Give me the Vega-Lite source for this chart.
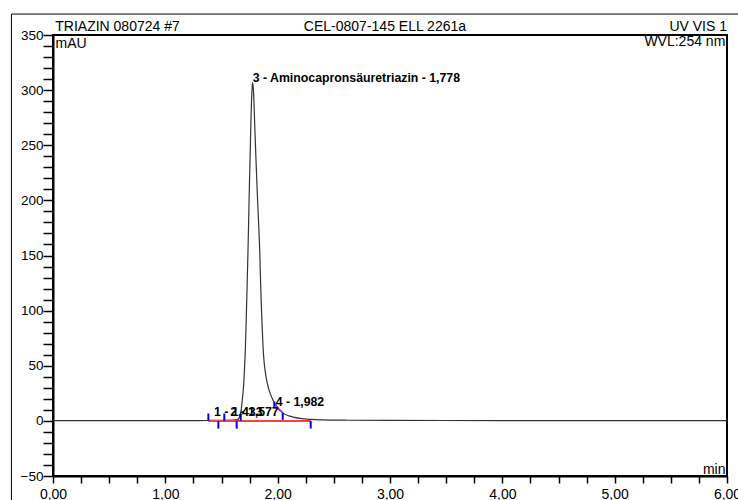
{
  "$schema": "https://vega.github.io/schema/vega-lite/v6.json",
  "width": 674,
  "height": 441,
  "autosize": {"type": "none"},
  "padding": {"left": 53, "top": 35, "right": 11, "bottom": 24},
  "background": "white",
  "config": {
    "view": {"stroke": "black", "strokeWidth": 2},
    "font": "Liberation Sans",
    "axis": {"labelOverlap": false, "labelBound": false, "labelFlush": false, "grid": false}
  },
  "resolve": {"axis": {"x": "independent", "y": "independent"}},
  "datasets": {
    "signal": [
      {"t": 0.0, "v": 0.2}, {"t": 0.5, "v": 0.2}, {"t": 1.0, "v": 0.3}, {"t": 1.3, "v": 0.3},
      {"t": 1.4, "v": 0.4}, {"t": 1.5, "v": 0.5}, {"t": 1.6, "v": 0.7}, {"t": 1.64, "v": 1.2},
      {"t": 1.655, "v": 2.5}, {"t": 1.665, "v": 5}, {"t": 1.675, "v": 10}, {"t": 1.685, "v": 19},
      {"t": 1.692, "v": 26}, {"t": 1.698, "v": 34}, {"t": 1.705, "v": 48}, {"t": 1.712, "v": 64},
      {"t": 1.72, "v": 92}, {"t": 1.728, "v": 122}, {"t": 1.736, "v": 155}, {"t": 1.745, "v": 198},
      {"t": 1.754, "v": 237}, {"t": 1.762, "v": 272}, {"t": 1.77, "v": 297}, {"t": 1.778, "v": 307},
      {"t": 1.786, "v": 297}, {"t": 1.796, "v": 268}, {"t": 1.807, "v": 237}, {"t": 1.818, "v": 208},
      {"t": 1.83, "v": 180}, {"t": 1.84, "v": 155}, {"t": 1.848, "v": 126}, {"t": 1.855, "v": 104},
      {"t": 1.862, "v": 85}, {"t": 1.87, "v": 67}, {"t": 1.878, "v": 55}, {"t": 1.888, "v": 46},
      {"t": 1.898, "v": 39}, {"t": 1.908, "v": 34}, {"t": 1.92, "v": 29}, {"t": 1.935, "v": 24.5},
      {"t": 1.958, "v": 19}, {"t": 1.98, "v": 15}, {"t": 2.0, "v": 12.3}, {"t": 2.025, "v": 9.5},
      {"t": 2.048, "v": 7}, {"t": 2.1, "v": 4.5}, {"t": 2.15, "v": 3.2}, {"t": 2.2, "v": 2.2},
      {"t": 2.3, "v": 1.3}, {"t": 2.4, "v": 0.9}, {"t": 2.6, "v": 0.6}, {"t": 3.0, "v": 0.4},
      {"t": 4.0, "v": 0.3}, {"t": 5.0, "v": 0.3}, {"t": 6.0, "v": 0.3}
    ],
    "baseline": [{"t1": 1.383, "t2": 2.294, "v": 0}],
    "skim": [{"t1": 1.973, "t2": 2.032, "v1": 13, "v2": 8.4}],
    "delims": [
      {"t": 1.383, "a": 0, "b": 6.7},
      {"t": 1.472, "a": 0, "b": -7},
      {"t": 1.525, "a": 0, "b": 6.7},
      {"t": 1.635, "a": 0, "b": -7},
      {"t": 1.671, "a": 0, "b": 6.7},
      {"t": 1.970, "a": 11.5, "b": 17.5},
      {"t": 2.045, "a": 0.9, "b": 7.3},
      {"t": 2.294, "a": 0, "b": -7}
    ],
    "peaks": [
      {"t": 1.433, "v": 4.5, "label": "1 - 1,433"},
      {"t": 1.577, "v": 4.5, "label": "2 - 1,577"},
      {"t": 1.778, "v": 307.5, "label": "3 - Aminocapronsäuretriazin - 1,778"},
      {"t": 1.982, "v": 13.6, "label": "4 - 1,982"}
    ],
    "headLeft": [{"t": 0.02, "v": 353.7, "label": "TRIAZIN 080724 #7"}],
    "headCenter": [{"t": 2.955, "v": 353.7, "label": "CEL-0807-145 ELL 2261a"}],
    "headRight": [
      {"t": 6.0, "v": 353.7, "label": "UV VIS 1"},
      {"t": 5.985, "v": 339.7, "label": "WVL:254 nm"}
    ],
    "frame": [{"t1": -0.37, "t2": 6.4, "v1": 369, "v2": -90}]
  },
  "layer": [
    {
      "data": {"name": "frame"},
      "mark": {"type": "rect", "fill": null, "stroke": "black", "strokeWidth": 1, "clip": false},
      "encoding": {
        "x": {"field": "t1", "type": "quantitative", "scale": {"domain": [0, 6], "nice": false, "zero": false},
          "axis": {
            "orient": "bottom",
            "values": [0,0.25,0.5,0.75,1,1.25,1.5,1.75,2,2.25,2.5,2.75,3,3.25,3.5,3.75,4,4.25,4.5,4.75,5,5.25,5.5,5.75,6],
            "labelExpr": "datum.value % 1 === 0 ? replace(format(datum.value, '.2f'), '.', ',') : ''",
            "labelFlush": false, "labelOverlap": false, "labelBound": false,
            "labelFont": "Liberation Sans", "labelFontSize": 14, "labelColor": "black",
            "labelPadding": 4, "tickSize": 7, "tickColor": "black", "tickWidth": 1.5,
            "domainColor": "black", "domainWidth": 2, "grid": false,
            "title": "min", "titleFont": "Liberation Sans", "titleFontSize": 14, "titleFontWeight": "normal",
            "titleColor": "black", "titleX": 672, "titleY": -3, "titleAlign": "right", "titleBaseline": "alphabetic",
            "encode": {"ticks": {"update": {"y2": {"signal": "datum.value % 1 === 0 ? 7 : -4"}}}}
          }},
        "x2": {"field": "t2"},
        "y": {"field": "v1", "type": "quantitative", "scale": {"domain": [-50, 350], "nice": false, "zero": false},
          "axis": {
            "orient": "left",
            "values": [-50,-40,-30,-20,-10,0,10,20,30,40,50,60,70,80,90,100,110,120,130,140,150,160,170,180,190,200,210,220,230,240,250,260,270,280,290,300,310,320,330,340,350],
            "labelExpr": "datum.value % 50 === 0 ? format(datum.value, 'd') : ''",
            "labelOverlap": false, "labelBound": false, "labelFlush": false,
            "labelFont": "Liberation Sans", "labelColor": "black", "labelFontSize": 13.5,
            "labelPadding": 0, "tickSize": 10, "tickColor": "black", "tickWidth": 1.5,
            "domainColor": "black", "domainWidth": 2, "grid": false,
            "title": "mAU", "titleFont": "Liberation Sans", "titleFontSize": 14, "titleFontWeight": "normal",
            "titleColor": "black", "titleAngle": 0, "titleX": 2, "titleY": 12, "titleAlign": "left", "titleBaseline": "alphabetic",
            "encode": {"ticks": {"update": {"x2": {"signal": "datum.value % 50 === 0 ? -10 : -5"}}}}
          }},
        "y2": {"field": "v2"}
      }
    },
    {
      "data": {"name": "signal"},
      "mark": {"type": "line", "color": "#333333", "strokeWidth": 1.2, "interpolate": "monotone"},
      "encoding": {
        "x": {"field": "t", "type": "quantitative", "axis": null},
        "y": {"field": "v", "type": "quantitative", "axis": null}
      }
    },
    {
      "data": {"name": "baseline"},
      "mark": {"type": "rule", "color": "#ff4040", "strokeWidth": 2},
      "encoding": {
        "x": {"field": "t1", "type": "quantitative", "axis": null},
        "x2": {"field": "t2"},
        "y": {"field": "v", "type": "quantitative", "axis": null}
      }
    },
    {
      "data": {"name": "skim"},
      "mark": {"type": "rule", "color": "#e020e0", "strokeWidth": 1.5},
      "encoding": {
        "x": {"field": "t1", "type": "quantitative", "axis": null},
        "x2": {"field": "t2"},
        "y": {"field": "v1", "type": "quantitative", "axis": null},
        "y2": {"field": "v2"}
      }
    },
    {
      "data": {"name": "delims"},
      "mark": {"type": "rule", "color": "#0000ff", "strokeWidth": 2},
      "encoding": {
        "x": {"field": "t", "type": "quantitative", "axis": null},
        "y": {"field": "a", "type": "quantitative", "axis": null},
        "y2": {"field": "b"}
      }
    },
    {
      "data": {"name": "peaks"},
      "mark": {"type": "text", "align": "left", "baseline": "alphabetic", "font": "Liberation Sans", "fontSize": 12.3, "fontWeight": "bold", "color": "black"},
      "encoding": {
        "x": {"field": "t", "type": "quantitative", "axis": null},
        "y": {"field": "v", "type": "quantitative", "axis": null},
        "text": {"field": "label"}
      }
    },
    {
      "data": {"name": "headLeft"},
      "mark": {"type": "text", "align": "left", "baseline": "alphabetic", "font": "Liberation Sans", "fontSize": 14, "color": "black"},
      "encoding": {
        "x": {"field": "t", "type": "quantitative", "axis": null},
        "y": {"field": "v", "type": "quantitative", "axis": null},
        "text": {"field": "label"}
      }
    },
    {
      "data": {"name": "headCenter"},
      "mark": {"type": "text", "align": "center", "baseline": "alphabetic", "font": "Liberation Sans", "fontSize": 14, "color": "black"},
      "encoding": {
        "x": {"field": "t", "type": "quantitative", "axis": null},
        "y": {"field": "v", "type": "quantitative", "axis": null},
        "text": {"field": "label"}
      }
    },
    {
      "data": {"name": "headRight"},
      "mark": {"type": "text", "align": "right", "baseline": "alphabetic", "font": "Liberation Sans", "fontSize": 14, "color": "black"},
      "encoding": {
        "x": {"field": "t", "type": "quantitative", "axis": null},
        "y": {"field": "v", "type": "quantitative", "axis": null},
        "text": {"field": "label"}
      }
    }
  ]
}
